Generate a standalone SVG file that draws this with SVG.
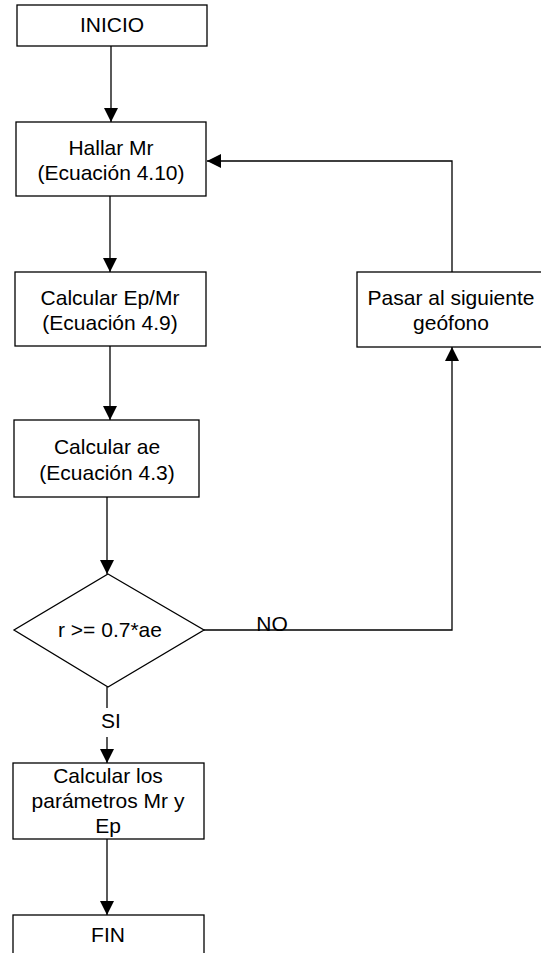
<svg xmlns="http://www.w3.org/2000/svg" width="541" height="953" viewBox="0 0 541 953">
<style>
.box{fill:#fff;stroke:#000;stroke-width:1.3}
.ln{fill:none;stroke:#000;stroke-width:1.3}
.t{font-family:"Liberation Sans",Arial,sans-serif;font-size:21px;fill:#000;text-anchor:middle}
</style>
<defs>
<marker id="ah" markerUnits="userSpaceOnUse" markerWidth="15" markerHeight="14" refX="14" refY="7" orient="auto">
<path d="M0,0 L14,7 L0,14 z" fill="#000"/>
</marker>
</defs>
<rect width="541" height="953" fill="#fff"/>
<g id="connectors">
<line class="ln" x1="111" y1="46" x2="111" y2="122" marker-end="url(#ah)"/>
<line class="ln" x1="110" y1="196" x2="110" y2="272" marker-end="url(#ah)"/>
<line class="ln" x1="110" y1="346" x2="110" y2="420" marker-end="url(#ah)"/>
<line class="ln" x1="107" y1="497" x2="107" y2="574" marker-end="url(#ah)"/>
<line class="ln" x1="107" y1="687" x2="107" y2="708"/>
<text class="t" x="111" y="728">SI</text>
<line class="ln" x1="107" y1="737" x2="107" y2="763" marker-end="url(#ah)"/>
<line class="ln" x1="107" y1="839" x2="107" y2="915" marker-end="url(#ah)"/>
<polyline class="ln" points="204,630 452,630 452,347" marker-end="url(#ah)"/>
<text class="t" x="272" y="631">NO</text>
<polyline class="ln" points="452,272 452,161 207,161" marker-end="url(#ah)"/>
</g>
<g id="inicio">
<rect class="box" x="17" y="5" width="190" height="41"/>
<text class="t" x="112" y="32">INICIO</text>
</g>
<g id="hallar">
<rect class="box" x="16" y="122" width="190" height="74"/>
<text class="t" x="111" y="155">Hallar Mr</text>
<text class="t" x="111" y="180">(Ecuación 4.10)</text>
</g>
<g id="calcular-ep">
<rect class="box" x="15" y="272" width="191" height="74"/>
<text class="t" x="110" y="305">Calcular Ep/Mr</text>
<text class="t" x="110" y="330">(Ecuación 4.9)</text>
</g>
<g id="calcular-ae">
<rect class="box" x="14" y="420" width="185" height="77"/>
<text class="t" x="107" y="454">Calcular ae</text>
<text class="t" x="107" y="480">(Ecuación 4.3)</text>
</g>
<g id="decision">
<polygon class="box" points="108,574 204,630 108,687 14,630"/>
<text class="t" x="110" y="637">r &gt;= 0.7*ae</text>
</g>
<g id="pasar">
<rect class="box" x="357" y="272" width="192" height="75"/>
<text class="t" x="451" y="305">Pasar al siguiente</text>
<text class="t" x="451" y="330">geófono</text>
</g>
<g id="calcular-parametros">
<rect class="box" x="13" y="763" width="191" height="76"/>
<text class="t" x="108" y="783">Calcular los</text>
<text class="t" x="108" y="808">parámetros Mr y</text>
<text class="t" x="108" y="833">Ep</text>
</g>
<g id="fin">
<rect class="box" x="13" y="915" width="191" height="50"/>
<text class="t" x="108" y="942">FIN</text>
</g>
</svg>
